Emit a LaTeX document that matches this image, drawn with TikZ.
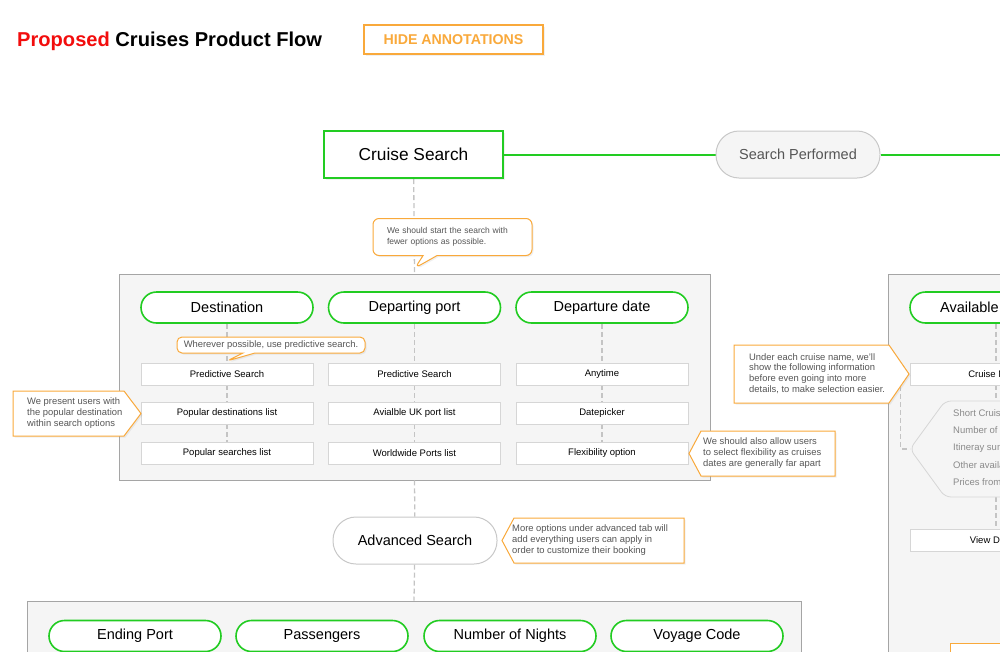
\documentclass[tikz,border=0pt]{standalone}
\usepackage{fontspec}
\setmainfont{Liberation Sans}
\usetikzlibrary{shapes.callouts,shadows}
\definecolor{flowgreen}{HTML}{22CC22}
\definecolor{annotorange}{HTML}{F9A93B}
\definecolor{annotgray}{HTML}{555555}
\definecolor{panelgray}{HTML}{F5F5F5}
\definecolor{panelline}{HTML}{A5A5A5}
\definecolor{boxline}{HTML}{D6D6D6}
\definecolor{dashgray}{HTML}{C4C4C4}
\definecolor{stategray}{HTML}{C8C8C8}
\definecolor{infogray}{HTML}{8A8A8A}
\definecolor{titlered}{HTML}{F20D0D}
\pgfdeclarelayer{panels}
\pgfdeclarelayer{lines}
\pgfsetlayers{panels,lines,main}

\begin{document}
\begin{tikzpicture}[x=1pt, y=-1pt,
    flowline/.style={draw=flowgreen, line width=2},
    dashline/.style={draw=dashgray, line width=1.3, dash pattern=on 5pt off 3pt},
    panel/.style={draw=panelline, fill=panelgray, line width=0.9, inner sep=0pt},
    stepname/.style={draw=flowgreen, fill=white, line width=1.6, rounded corners=15.5, minimum width=172, minimum height=31, inner sep=0pt, font=\fontsize{14.5}{17}\selectfont},
    optbox/.style={draw=boxline, fill=white, line width=0.8, minimum width=172, minimum height=22, inner sep=0pt, font=\fontsize{9.5}{11}\selectfont},
    statepill/.style={draw=stategray, line width=1, rounded corners=23, minimum width=164, minimum height=47, inner sep=0pt, font=\fontsize{14.5}{18}\selectfont},
    note/.style={draw=annotorange, fill=white, line width=1, drop shadow={shadow xshift=1.5pt, shadow yshift=-1.5pt, opacity=0.12}},
    notetext/.style={text=annotgray, align=left, inner sep=0pt, font=\fontsize{9.4}{10.8}\selectfont},
  ]
    \useasboundingbox (0,0) rectangle (1000,651);
    \clip (0,0) rectangle (1000,651);

    % Header
    \node[anchor=base west, inner sep=0pt, font=\bfseries\fontsize{20.1}{23}\selectfont] (title) at (17,46) {\textcolor{titlered}{Proposed} Cruises Product Flow};
    \node[draw=annotorange, fill=white, line width=1.2, minimum width=179, minimum height=29, inner sep=0pt, text=annotorange, font=\bfseries\fontsize{14.2}{16}\selectfont, drop shadow={shadow xshift=1.5pt, shadow yshift=-1.5pt, opacity=0.12}] (hide) at (453.5,39.5) {HIDE ANNOTATIONS};

    % Nodes
    \node[draw=flowgreen, fill=white, line width=2.4, minimum width=179, minimum height=47, inner sep=0pt, font=\fontsize{17.3}{20}\selectfont, drop shadow={shadow xshift=1.5pt, shadow yshift=-1.5pt, opacity=0.12}] (cs) at (413.5,154.5) {Cruise Search};
    \node[statepill, fill=panelgray, text=annotgray] (sp) at (798,154.5) {Search Performed};
    \coordinate (spout) at (1005,154.5);

    \begin{pgfonlayer}{panels}
      \node[panel, minimum width=591, minimum height=206] (p1) at (414.5,377) {};
      \node[panel, minimum width=774, minimum height=200] (p2) at (414,701) {};
      \node[panel, minimum width=312, minimum height=526] (p3) at (1044,537) {};
    \end{pgfonlayer}

    \node[stepname] (dest) at (227,307.5) {Destination};
    \node[stepname] (dport) at (414.5,307.5) {Departing port};
    \node[stepname] (ddate) at (602,307.5) {Departure date};

    \node[optbox] (dest1) at (227,374) {Predictive Search};
    \node[optbox] (dest2) at (227,413) {Popular destinations list};
    \node[optbox] (dest3) at (227,453) {Popular searches list};
    \node[optbox] (dport1) at (414.5,374) {Predictive Search};
    \node[optbox] (dport2) at (414.5,413) {Avialble UK port list};
    \node[optbox] (dport3) at (414.5,453) {Worldwide Ports list};
    \node[optbox] (ddate1) at (602,374) {Anytime};
    \node[optbox] (ddate2) at (602,413) {Datepicker};
    \node[optbox] (ddate3) at (602,453) {Flexibility option};

    \node[statepill, fill=white] (adv) at (415,540.5) {Advanced Search};

    \node[stepname] (endp) at (135,636) {Ending Port};
    \node[stepname] (pass) at (322,636) {Passengers};
    \node[stepname] (nights) at (510,636) {Number of Nights};
    \node[stepname] (voyage) at (697,636) {Voyage Code};

    \node[stepname] (avail) at (996,307.5) {Available Cruises};
    \node[optbox] (cname) at (996,374) {Cruise Name};
    \node[optbox] (viewd) at (996,540.5) {View Details};
    \draw[draw=boxline, fill=panelgray, line width=0.8, rounded corners=6] (910,449) -- (945,401) -- (1090,401) -- (1090,497) -- (945,497) -- cycle;
    \coordinate (infotip) at (910,449);
    \node[anchor=north west, align=left, inner sep=0pt, text=infogray, font=\fontsize{9.5}{17.2}\selectfont] (infolist) at (953,409.5) {Short Cruise description\\Number of nights\\Itineray summary\\Other available dates\\Prices from};

    % Connectors
    \begin{pgfonlayer}{lines}
      \draw[flowline] (cs) -- (sp);
      \draw[flowline] (sp) -- (spout);
      \draw[dashline] (cs) -- (p1.north);
      \draw[dashline] (p1.south) -- (adv);
      \draw[dashline] (adv) -- (p2.north);
      \draw[dashline] (dest) -- (dest1) -- (dest2) -- (dest3);
      \draw[dashline] (dport) -- (dport1) -- (dport2) -- (dport3);
      \draw[dashline] (ddate) -- (ddate1) -- (ddate2) -- (ddate3);
      \draw[dashline] (avail) -- (cname) -- (viewd);
      \draw[dashline] (cname.south west) ++(-9,1) |- (infotip);
    \end{pgfonlayer}

    % Annotations
    \node[note, rectangle callout, rounded corners=6, minimum width=159, minimum height=37, inner xsep=14, text width=131, callout absolute pointer={(415,268)}, callout pointer width=14, notetext, font=\fontsize{8.5}{10.5}\selectfont, inner ysep=0pt] (startnote) at (452.5,237) {We should start the search with\\fewer options as possible.};
    \node[note, rectangle callout, rounded corners=5, minimum width=188, minimum height=16, callout absolute pointer={(227,361)}, callout pointer width=12, notetext, align=center] (prednote) at (271,345) {Wherever possible, use predictive search.};

    \draw[note] (13,391) -- (124,391) -- (141,413.5) -- (124,436) -- (13,436) -- cycle;
    \node[notetext, anchor=west] (popnote) at (27,413) {We present users with\\the popular destination\\within search options};

    \draw[note] (701,431) -- (835,431) -- (835,476) -- (701,476) -- (689,453.5) -- cycle;
    \node[notetext, anchor=west] (flexnote) at (703,453) {We should also allow users\\to select flexibility as cruises\\dates are generally far apart};

    \draw[note] (514,518) -- (684,518) -- (684,563) -- (514,563) -- (502,540.5) -- cycle;
    \node[notetext, anchor=west] (advnote) at (512,540) {More options under advanced tab will\\add everything users can apply in\\order to customize their booking};

    \draw[note] (734,345) -- (889,345) -- (909,374) -- (889,403) -- (734,403) -- cycle;
    \node[notetext, anchor=west] (cnamenote) at (749,373.5) {Under each cruise name, we'll\\show the following information\\before even going into more\\details, to make selection easier.};

    \draw[note] (950,643) rectangle (1120,720);

  \end{tikzpicture}
\end{document}
